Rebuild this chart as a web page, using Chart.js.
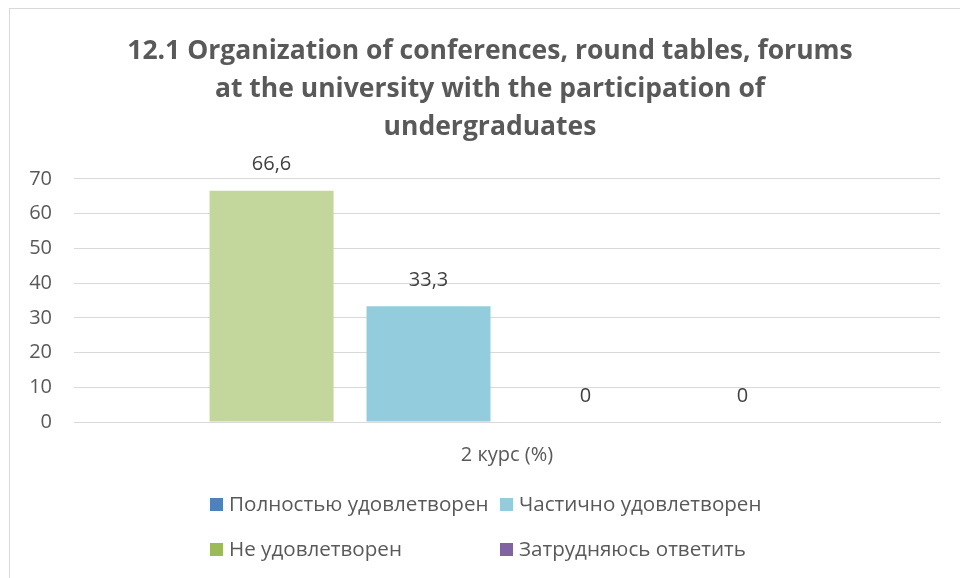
<!DOCTYPE html>
<html>
<head>
<meta charset="utf-8">
<script src="https://cdn.jsdelivr.net/npm/chart.js@4.4.1/dist/chart.umd.min.js"></script>
<style>
  html, body { margin: 0; padding: 0; background: #fff; }
  #wrap { position: relative; width: 960px; height: 578px; }
</style>
</head>
<body>
<div id="wrap"><canvas id="chart" width="960" height="578"></canvas></div>
<script>
// данные диаграммы
const categories = ['2 курс (%)'];
const seriesNames = ['Не удовлетворен', 'Частично удовлетворен', 'Полностью удовлетворен', 'Затрудняюсь ответить'];
const seriesValues = [66.6, 33.3, 0, 0];
const barColors = ['#c3d69b', '#93cddd', '#4f81bd', '#8064a2'];
const legendOrder = ['Полностью удовлетворен', 'Частично удовлетворен', 'Не удовлетворен', 'Затрудняюсь ответить'];
const legendColors = ['#4f81bd', '#93cddd', '#9bbb59', '#8064a2'];
const titleLines = [
    '12.1 Organization of conferences, round tables, forums',
    'at the university with the participation of',
    'undergraduates'
];

const FONT = '"Open Sans", sans-serif';
const TEXT = '#595959';

// рамка вокруг диаграммы
const framePlugin = {
    id: 'frame',
    beforeDraw(chart) {
        const ctx = chart.ctx;
        ctx.save();
        ctx.strokeStyle = '#d9d9d9';
        ctx.lineWidth = 1;
        ctx.strokeRect(9.5, 8.5, 1200, 1200);
        ctx.restore();
    }
};

// подписи значений над столбцами
const valueLabels = {
    id: 'valueLabels',
    afterDatasetsDraw(chart) {
        const ctx = chart.ctx;
        ctx.save();
        ctx.font = '20px ' + FONT;
        ctx.fillStyle = '#404040';
        ctx.textAlign = 'center';
        ctx.textBaseline = 'middle';
        chart.data.datasets.forEach((ds, i) => {
            chart.getDatasetMeta(i).data.forEach((bar, j) => {
                const txt = String(ds.data[j]).replace('.', ',');
                ctx.fillText(txt, bar.x, bar.y - 26);
            });
        });
        ctx.restore();
    }
};

// легенда в две колонки, как в Excel
const gridLegend = {
    id: 'gridLegend',
    afterDraw(chart) {
        const ctx = chart.ctx;
        const cols = [210, 500];
        const rows = [504, 549];
        ctx.save();
        ctx.font = '20.6px ' + FONT;
        ctx.textBaseline = 'middle';
        ctx.textAlign = 'left';
        legendOrder.forEach((name, i) => {
            const x = cols[i % 2];
            const y = rows[Math.floor(i / 2)];
            ctx.fillStyle = legendColors[i];
            ctx.fillRect(x, y - 6, 13, 13);
            ctx.fillStyle = TEXT;
            ctx.fillText(name, x + 19, y + 1);
        });
        ctx.restore();
    }
};

const ctx = document.getElementById('chart').getContext('2d');
new Chart(ctx, {
    type: 'bar',
    data: {
        labels: categories,
        datasets: seriesNames.map((name, i) => ({
            label: name,
            data: [seriesValues[i]],
            backgroundColor: barColors[i],
            borderWidth: 0
        }))
    },
    options: {
        responsive: false,
        animation: false,
        events: [],
        datasets: { bar: { categoryPercentage: 0.725, barPercentage: 0.79 } },
        layout: { padding: { left: 20, right: 0, top: 0, bottom: 90 } },
        plugins: {
            legend: { display: false },
            tooltip: { enabled: false },
            title: {
                display: true,
                text: titleLines,
                color: TEXT,
                font: { family: FONT, size: 26.5, weight: 'bold', lineHeight: 1.42 },
                padding: { top: 33, bottom: 33 }
            }
        },
        scales: {
            x: {
                grid: { display: false, drawTicks: false },
                border: { display: true, color: '#d9d9d9', width: 1 },
                ticks: { color: TEXT, padding: 21, font: { family: FONT, size: 20 } }
            },
            y: {
                min: 0,
                max: 70,
                afterFit(scale) { scale.width = 54; },
                grid: { color: '#d9d9d9', lineWidth: 1, drawTicks: false },
                border: { display: false },
                ticks: { stepSize: 10, color: TEXT, padding: 22, font: { family: FONT, size: 20 } }
            },
            // пустая правая ось — только отступ справа от области построения
            yRight: {
                position: 'right',
                afterFit(scale) { scale.width = 20; },
                grid: { display: false, drawTicks: false },
                border: { display: false },
                ticks: { display: false }
            }
        }
    },
    plugins: [framePlugin, valueLabels, gridLegend]
});
</script>
</body>
</html>
